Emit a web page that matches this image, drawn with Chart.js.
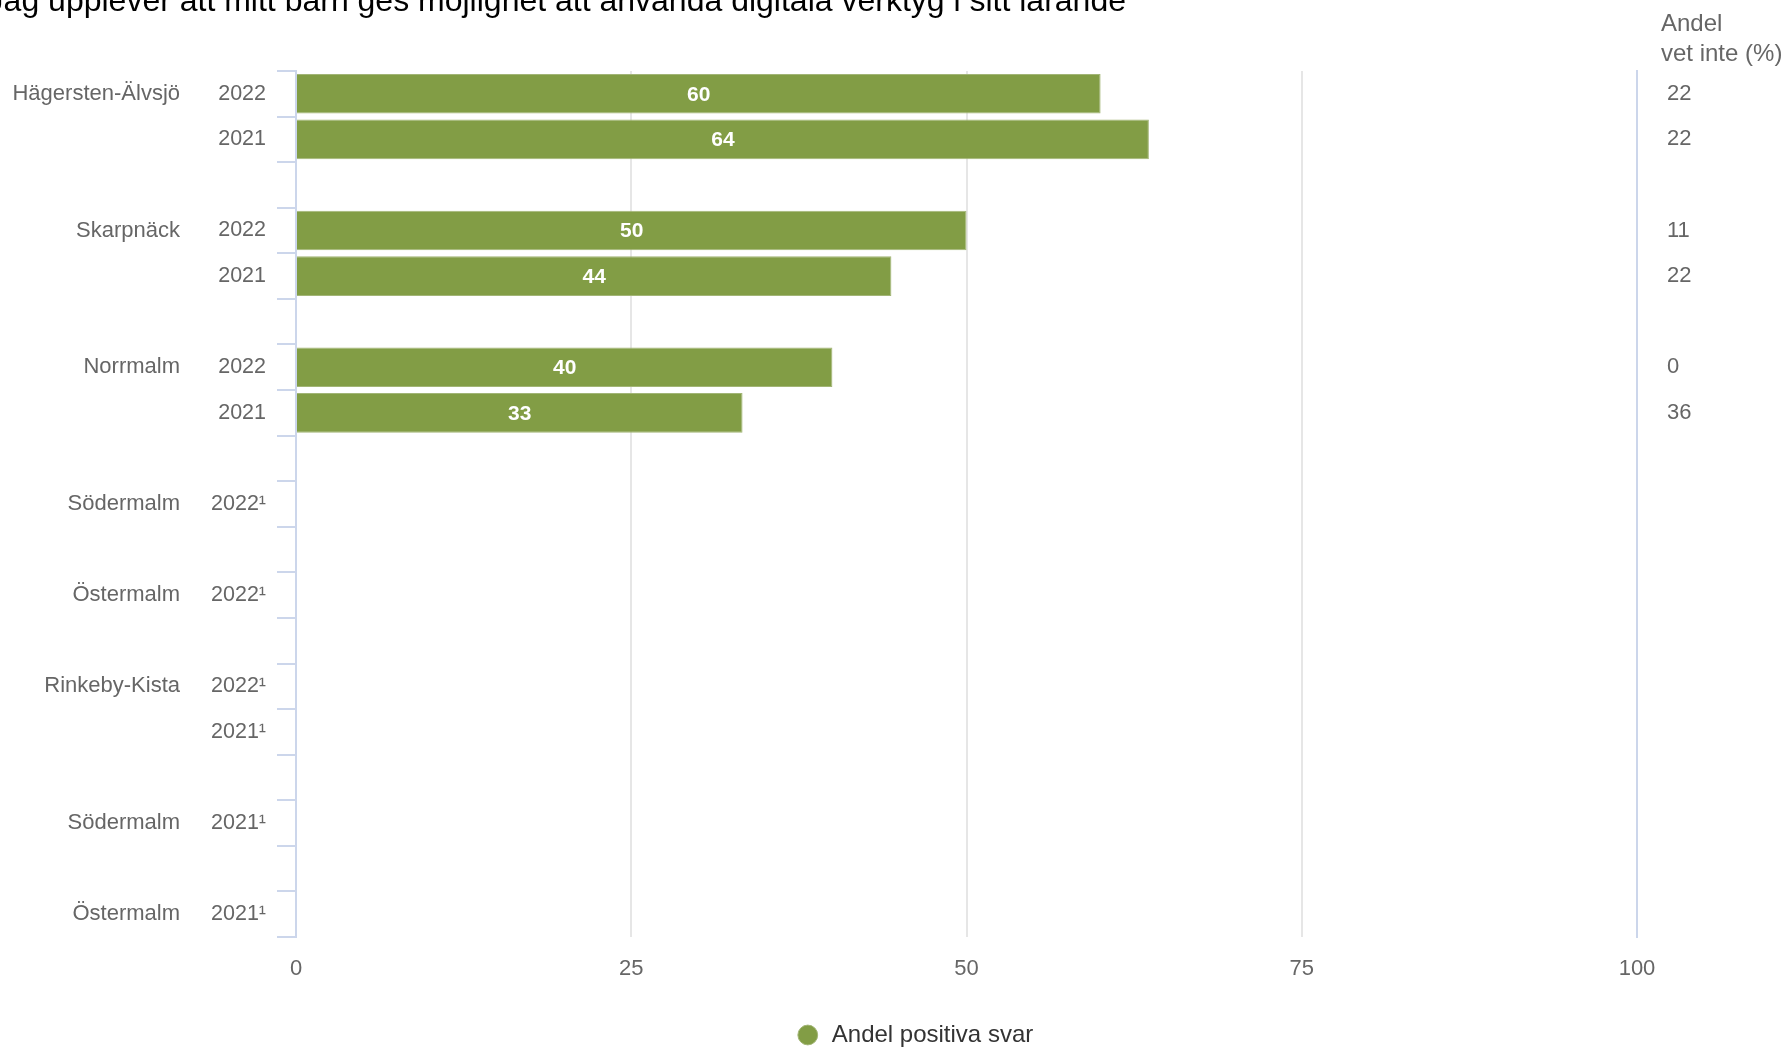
<!DOCTYPE html>
<html>
<head>
<meta charset="utf-8">
<title>Digitala verktyg i lärandet</title>
<script src="https://cdn.jsdelivr.net/npm/chart.js@4.4.1/dist/chart.umd.min.js"></script>
<style>
	html, body { margin: 0; padding: 0; background: #fff; }
	#grafico { display: block; }
</style>
</head>
<body>
<canvas id="grafico" width="1787" height="1050"></canvas>
<script>
var titel = "Jag upplever att mitt barn ges möjlighet att använda digitala verktyg i sitt lärande";

// en rad per stapel, tomma rader ger mellanrum mellan stadsdelarna
var stadsdelar = ["Hägersten-Älvsjö", "", "", "Skarpnäck", "", "", "Norrmalm", "", "", "Södermalm", "", "Östermalm", "", "Rinkeby-Kista", "", "", "Södermalm", "", "Östermalm"];
var ar = ["2022", "2021", "", "2022", "2021", "", "2022", "2021", "", "2022¹", "", "2022¹", "", "2022¹", "2021¹", "", "2021¹", "", "2021¹"];
var andelPositiva = [60, 63.6, null, 50, 44.4, null, 40, 33.3, null, null, null, null, null, null, null, null, null, null, null];
var andelVetInte = ["22", "22", "", "11", "22", "", "0", "36", "", "", "", "", "", "", "", "", "", "", ""];
var xTicks = [0, 25, 50, 75, 100];

var typsnitt = "'Liberation Sans', Arial, sans-serif";
var gron = "#829d45";
var gra_text = "#666666";
var axel_farg = "#ccd6eb";

Chart.defaults.font.family = typsnitt;

var textPlugin = {
	id: "texter",
	afterLayout: function (chart) {
		// legenden sitter lite till höger om mitten i originalet
		chart.legend.left += 21;
		chart.legend.right += 21;
	},
	afterDatasetsDraw: function (chart) {
		var ctx = chart.ctx;
		var meta = chart.getDatasetMeta(0);
		ctx.save();
		ctx.font = "bold 21px " + typsnitt;
		ctx.fillStyle = "#fff";
		ctx.textAlign = "center";
		ctx.textBaseline = "middle";
		meta.data.forEach(function (stapel, i) {
			var v = andelPositiva[i];
			if (v == null) return;
			var p = stapel.getCenterPoint();
			ctx.fillText(v.toFixed(0), p.x, p.y + 1);
		});
		ctx.restore();
	},
	afterDraw: function (chart) {
		var ctx = chart.ctx;
		ctx.save();
		// rubriken ligger delvis utanför bilden, som i originalet
		ctx.font = "32px " + typsnitt;
		ctx.fillStyle = "#000";
		ctx.textAlign = "right";
		ctx.textBaseline = "alphabetic";
		ctx.fillText(titel, 1126, 11);

		ctx.font = "24px " + typsnitt;
		ctx.fillStyle = gra_text;
		ctx.textAlign = "left";
		ctx.textBaseline = "middle";
		ctx.fillText("Andel", 1661, 24);
		ctx.fillText("vet inte (%)", 1661, 54);
		ctx.restore();
	}
};

var config = {
	type: "bar",
	data: {
		labels: ar,
		datasets: [
			{
				label: "Andel positiva svar",
				data: andelPositiva,
				backgroundColor: gron,
				borderColor: "#a2b576",
				borderWidth: 1,
				borderSkipped: "start",
				barPercentage: 0.87,
				categoryPercentage: 1,
				xAxisID: "x",
				yAxisID: "y",
			},
		],
	},
	options: {
		indexAxis: "y",
		responsive: false,
		animation: false,
		devicePixelRatio: 1,
		layout: {
			padding: { top: 71, left: 0, right: 0, bottom: -7 },
		},
		scales: {
			x: {
				type: "linear",
				position: "bottom",
				min: 0,
				max: 100,
				afterBuildTicks: function (scale) {
					scale.ticks = xTicks.map(function (v) {
						return { value: v };
					});
				},
				afterFit: function (scale) {
					scale.height = 76;
				},
				grid: {
					color: "#e6e6e6",
					lineWidth: 2,
					drawTicks: false,
				},
				border: { display: false },
				ticks: {
					color: gra_text,
					font: { size: 22 },
					padding: 19,
				},
			},
			y: {
				type: "category",
				position: "left",
				labels: ar,
				offset: true,
				weight: 0,
				afterFit: function (scale) {
					scale.width = 106;
				},
				grid: {
					offset: true,
					drawOnChartArea: false,
					tickLength: 19,
					color: axel_farg,
					lineWidth: 2,
				},
				border: { color: axel_farg, width: 2 },
				ticks: {
					color: gra_text,
					font: { size: 21.5 },
					padding: 11,
					autoSkip: false,
				},
			},
			distrikt: {
				type: "category",
				position: "left",
				labels: stadsdelar,
				offset: true,
				weight: 1,
				afterFit: function (scale) {
					scale.width = 190;
				},
				grid: { display: false, drawTicks: false },
				border: { display: false },
				ticks: {
					color: gra_text,
					font: { size: 22 },
					padding: 10,
					autoSkip: false,
				},
			},
			vetInte: {
				type: "category",
				position: "right",
				labels: andelVetInte,
				offset: true,
				afterFit: function (scale) {
					scale.width = 150;
				},
				grid: { drawOnChartArea: false, drawTicks: false },
				border: { color: axel_farg, width: 2 },
				ticks: {
					color: gra_text,
					font: { size: 22 },
					padding: 30,
					autoSkip: false,
				},
			},
		},
		plugins: {
			legend: {
				position: "bottom",
				labels: {
					usePointStyle: true,
					pointStyle: "circle",
					boxHeight: 14,
					color: "#333",
					font: { size: 24 },
					padding: 10,
				},
			},
			tooltip: { enabled: false },
		},
	},
	plugins: [textPlugin],
};

var grafico = new Chart(document.getElementById("grafico"), config);
</script>
</body>
</html>
